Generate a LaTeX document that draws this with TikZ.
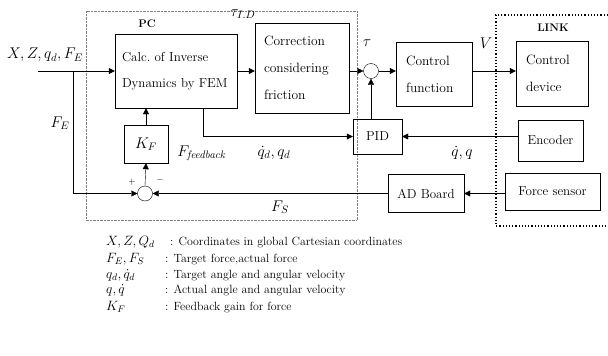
\RequirePackage{fix-cm}
\documentclass[tikz,border=0pt]{standalone}
\usepackage{amsmath}
\usetikzlibrary{arrows.meta,positioning}

\begin{document}
\begin{tikzpicture}[x=1pt,y=-1pt,
  >={Triangle[length=6pt,width=6pt]},
  block/.style={draw, inner sep=0pt, font=\fontsize{13}{27}\selectfont},
  bigblock/.style={block, align=left, font=\fontsize{13.5}{27}\selectfont},
  sum/.style={draw, circle, inner sep=0pt, minimum size=15pt},
  lbl/.style={inner sep=0pt, font=\fontsize{15.5}{17}\selectfont},
  sym/.style={inner sep=0pt, anchor=base west, font=\fontsize{13.5}{15}\selectfont},
  leg/.style={inner sep=0pt, anchor=base west, font=\fontsize{11.9}{13}\selectfont}]
  \useasboundingbox (0,0) rectangle (608,356);

  % frames
  \draw[densely dotted, gray] (86,11) rectangle (357,220);
  \draw[dotted, line width=1.2pt] (608,15) -- (496,15) -- (496,226) -- (608,226);
  \node[font=\bfseries\fontsize{11}{13}\selectfont] (pc) at (147,24) {PC};
  \node[font=\bfseries\fontsize{11}{13}\selectfont] (link) at (553,28) {LINK};

  % blocks
  \node[bigblock, minimum width=122pt, minimum height=74pt, text width=108pt, font=\fontsize{13}{26}\selectfont] (calc) at (176,71) {Calc.\ of Inverse\\Dynamics by FEM};
  \node[bigblock, minimum width=94pt, minimum height=90pt, text width=76pt] (corr) at (302,68) {Correction\\considering\\friction};
  \node[bigblock, minimum width=76pt, minimum height=64pt, text width=56pt] (ctrl) at (434,74) {Control\\function};
  \node[bigblock, minimum width=72pt, minimum height=65pt, text width=52pt] (dev) at (552,73.5) {Control\\device};
  \node[block, minimum width=49pt, minimum height=35pt] (pid) at (377.5,136.5) {PID};
  \node[block, minimum width=65pt, minimum height=41pt] (enc) at (550.5,140.5) {Encoder};
  \node[block, minimum width=95pt, minimum height=37pt] (fs) at (552.5,191.5) {Force sensor};
  \node[block, minimum width=76pt, minimum height=38pt] (ad) at (426,193.5) {AD Board};
  \node[block, minimum width=44pt, minimum height=38pt, font=\fontsize{15.5}{17}\selectfont] (kf) at (146,144) {$K_F$};
  \node[sum] (s1) at (371,71) {};
  \node[sum] (s2) at (145,193.5) {};

  % signals
  \coordinate (in) at (38,71);
  \coordinate (br) at (73,71);
  \coordinate (tap) at (203,108);
  \draw[->] (in) -- (calc.west);
  \draw[->] (br) -- (br |- s2) -- (s2.west);
  \draw[->] (calc.east) -- (calc.east -| corr.west);
  \draw[->] (corr.east |- s1) -- (s1.west);
  \draw[->] (s1.east) -- (s1.east -| ctrl.west);
  \draw[->] (s1 -| ctrl.east) -- (s1 -| dev.west);
  \draw[->] (pid.north -| s1) -- (s1.south);
  \draw[->] (tap) |- (pid.west);
  \draw[->] (enc.west |- pid) -- (pid.east);
  \draw[->] (fs.west |- ad) -- (ad.east);
  \draw[->] (ad.west) -- (s2.east);
  \draw[->] (s2.north) -- (kf.south);
  \draw[->] (kf.north) -- (kf.north |- calc.south);

  % labels
  \node[lbl] (xin) at (45,55) {$X,Z,q_d,F_E$};
  \node[lbl] (fe) at (60,123) {$F_E$};
  \node[lbl] (tid) at (243,14) {$\tau_{I.D}$};
  \node[lbl] (tau) at (367,43) {$\tau$};
  \node[lbl] (v) at (486,43) {$V$};
  \node[lbl] (ffb) at (202,153) {$F_{\mathit{feedback}}$};
  \node[lbl] (qd) at (274,153) {$\dot q_d,q_d$};
  \node[lbl] (q) at (462,153) {$\dot q,q$};
  \node[lbl] (fsl) at (280,207) {$F_S$};
  \node[font=\small] (plus) at (132,182) {$+$};
  \node[font=\small] (minus) at (160,180) {$-$};

  % legend
  \node[sym] (l1s) at (106,245) {$X,Z,Q_d$};
  \node[leg] (l1t) at (170,245) {: Coordinates in global Cartesian coordinates};
  \node[sym] (l2s) at (106,262) {$F_E,F_S$};
  \node[leg] (l2t) at (165,262) {: Target force,actual force};
  \node[sym] (l3s) at (106,278) {$q_d,\dot q_d$};
  \node[leg] (l3t) at (165,278) {: Target angle and angular velocity};
  \node[sym] (l4s) at (106,293) {$q,\dot q$};
  \node[leg] (l4t) at (165,293) {: Actual angle and angular velocity};
  \node[sym] (l5s) at (106,310) {$K_F$};
  \node[leg] (l5t) at (165,310) {: Feedback gain for force};
\end{tikzpicture}
\end{document}
